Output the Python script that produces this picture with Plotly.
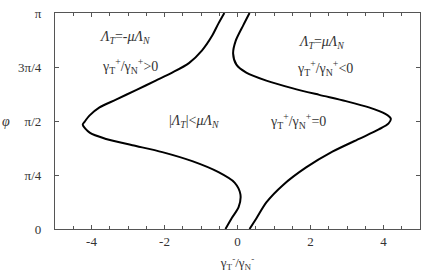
import numpy as np
import plotly.graph_objects as go

PI = np.pi
# left curve: x = gamma ratio, y = phi/pi
left_x = [-0.36, -0.52, -0.70, -0.97, -1.33, -1.79, -2.24, -2.78, -3.33, -3.78, -4.05, -4.19,
          -4.24, -4.05, -3.60, -2.88, -2.06, -1.24, -0.52, -0.08, 0.08, 0.03, -0.16, -0.33]
left_phi = [1.0, 0.952, 0.893, 0.827, 0.768, 0.724, 0.687, 0.643, 0.599, 0.563, 0.526, 0.496,
            0.483, 0.446, 0.417, 0.388, 0.356, 0.314, 0.263, 0.215, 0.160, 0.101, 0.050, 0.0]
right_x = [0.33, 0.16, -0.05, -0.12, -0.03, 0.24, 0.79, 1.52, 2.24, 2.97, 3.60, 4.05, 4.20,
           4.14, 3.87, 3.33, 2.60, 1.88, 1.25, 0.79, 0.52, 0.33]
right_phi = [1.0, 0.944, 0.871, 0.812, 0.761, 0.724, 0.687, 0.651, 0.621, 0.592, 0.563, 0.533,
             0.511, 0.489, 0.461, 0.417, 0.358, 0.285, 0.204, 0.123, 0.050, 0.0]

xticks = [-4, -2, 0, 2, 4]
xticktext = ["-4", "-2", "0", "2", "4"]
yticks = [0, 0.25, 0.5, 0.75, 1.0]
yticktext = ["0", "π/4", "π/2", "3π/4", "π"]

FONT = "Liberation Serif"
TXT = "#333"
fig = go.Figure()
for xs, ps in [(left_x, left_phi), (right_x, right_phi)]:
    fig.add_trace(go.Scatter(x=xs, y=[p * PI for p in ps], mode="lines",
                             line=dict(color="black", width=2, shape="spline", smoothing=0.8),
                             showlegend=False, hoverinfo="skip"))

labels = [
    (-3.1, 0.885, "<i>Λ<sub>T</sub></i>=-<i>μΛ<sub>N</sub></i>"),
    (-2.95, 0.755, "γ<sub>T</sub><sup>+</sup>/γ<sub>N</sub><sup>+</sup>>0"),
    (-1.2, 0.5, "|<i>Λ<sub>T</sub></i>|<<i>μΛ<sub>N</sub></i>"),
    (2.3, 0.865, "<i>Λ<sub>T</sub></i>=<i>μΛ<sub>N</sub></i>"),
    (2.4, 0.745, "γ<sub>T</sub><sup>+</sup>/γ<sub>N</sub><sup>+</sup><0"),
    (1.65, 0.5, "γ<sub>T</sub><sup>+</sup>/γ<sub>N</sub><sup>+</sup>=0"),
]
for x, p, t in labels:
    fig.add_annotation(x=x, y=p * PI, text=t, showarrow=False,
                       font=dict(family=FONT, size=14, color=TXT))

fig.add_annotation(xref="paper", yref="y", x=-0.15, y=0.5 * PI, text="<i>φ</i>",
                   showarrow=False, xanchor="left", font=dict(family=FONT, size=14, color=TXT))

fig.update_layout(
    width=427, height=274,
    margin=dict(l=55, r=6, t=9, b=38),
    paper_bgcolor="white", plot_bgcolor="white",
    font=dict(family=FONT, size=13, color=TXT),
    xaxis=dict(range=[-5, 5], tickvals=xticks, ticktext=xticktext, ticks="inside", ticklen=4,
               mirror="ticks", showline=True, linecolor="#555", linewidth=1.2, showgrid=False,
               zeroline=False, tickcolor="#555",
               minor=dict(dtick=0.5, ticks="inside", ticklen=3, tickcolor="#555"),
               title=dict(text="γ<sub>T</sub><sup>-</sup>/γ<sub>N</sub><sup>-</sup>",
                          font=dict(family=FONT, size=13, color=TXT), standoff=10)),
    yaxis=dict(range=[0, PI], tickvals=[v * PI for v in yticks], ticktext=yticktext,
               ticks="inside", ticklen=4, mirror="ticks", tickcolor="#555",
               showline=True, linecolor="#555", linewidth=1.2, showgrid=False, zeroline=False,
               ticklabelstandoff=10),
)
fig.write_html("out.html")
